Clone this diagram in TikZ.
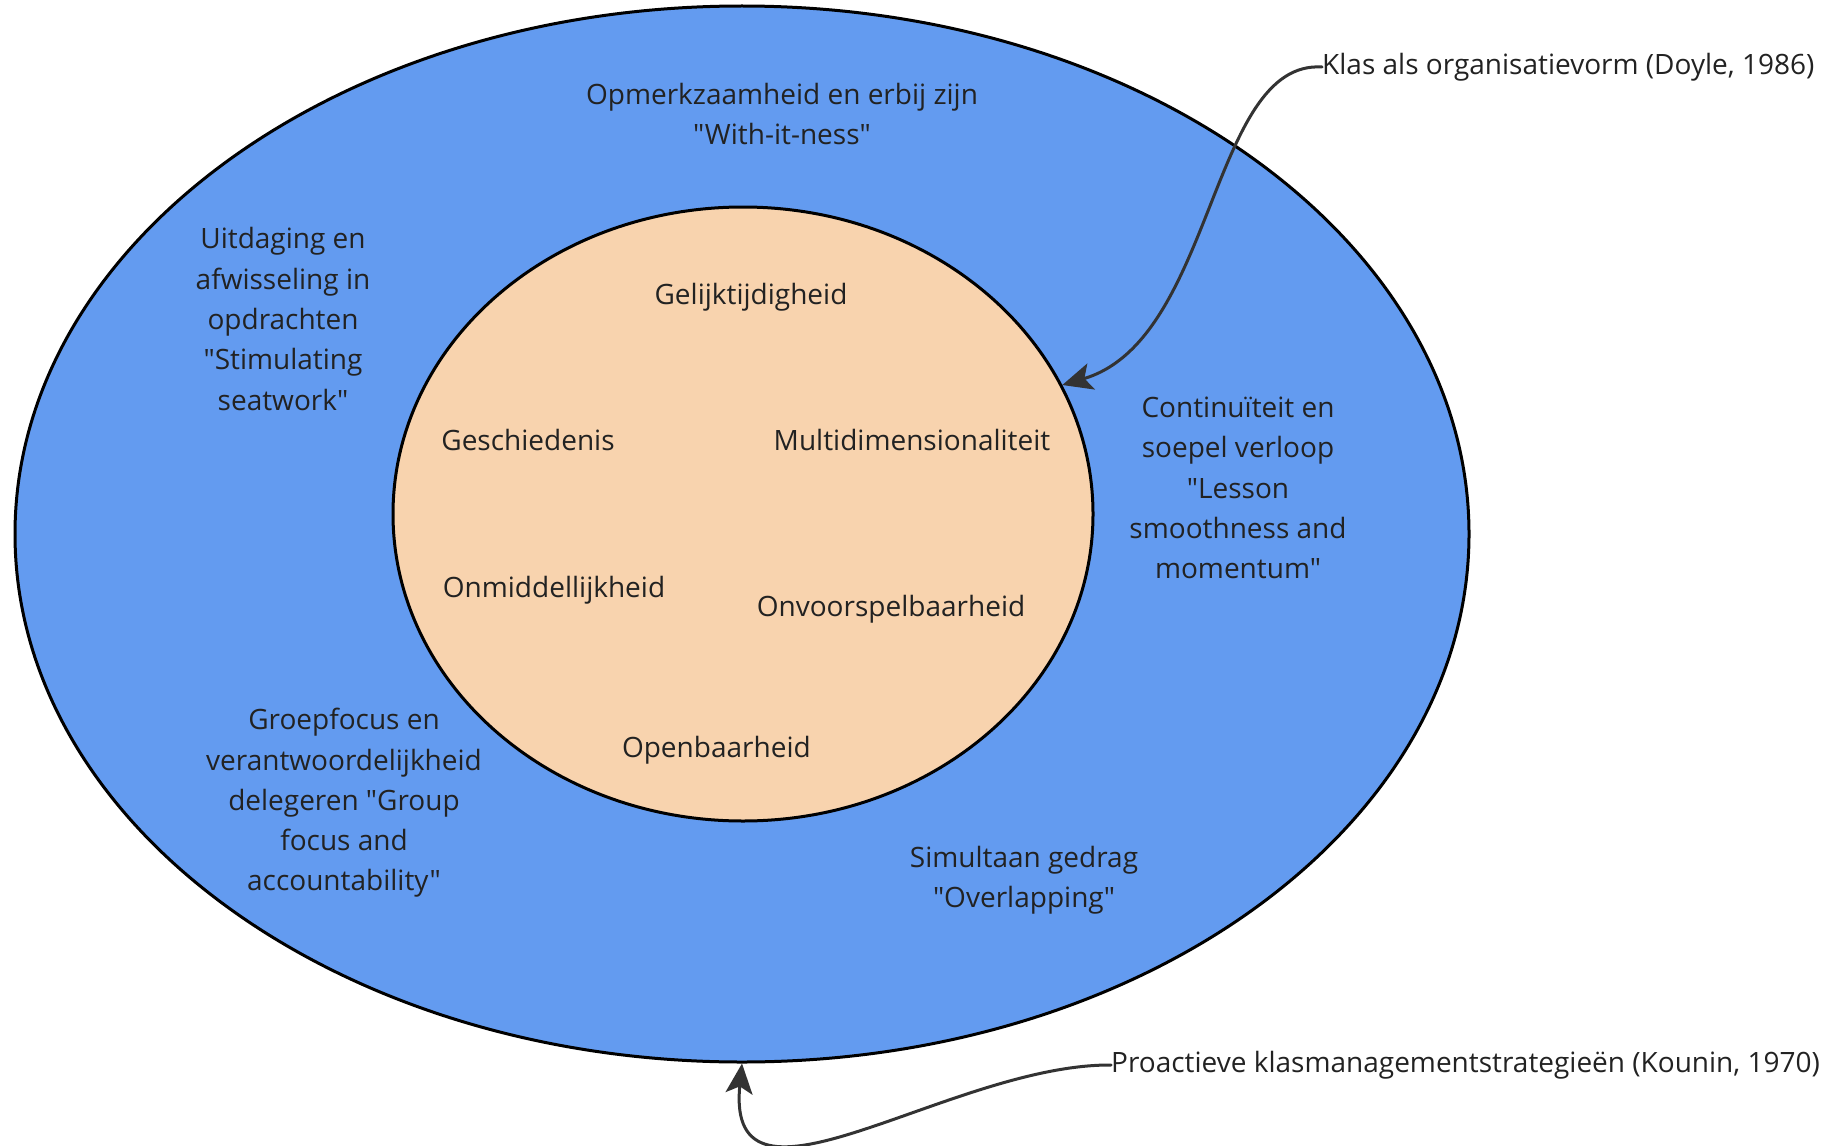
\documentclass[tikz,border=0pt]{standalone}
\usepackage{fontspec}
\setmainfont{Open Sans}[Ligatures=TeXOff]
\usetikzlibrary{arrows.meta,shapes.geometric}
\definecolor{outerblue}{HTML}{639BF0}
\definecolor{innerpeach}{HTML}{F8D3AE}
\definecolor{inkgray}{HTML}{333333}
\definecolor{textgray}{HTML}{222222}
\tikzset{
  ring/.style={draw=black,ellipse,line width=3pt,inner sep=0pt},
  lbl/.style={align=center,text=textgray,inner sep=0pt},
  conn/.style={draw=inkgray,line width=3pt,-{Stealth[length=30pt,width=27pt,inset=7pt]}}
}
\begin{document}
\begin{tikzpicture}[x=1pt,y=-1pt,line join=round,line cap=round,font=\fontsize{28}{40.3}\selectfont]
\useasboundingbox (0,0) rectangle (1843,1145);
% rings
\node[ring,fill=outerblue,minimum width=1454pt,minimum height=1056pt] (outer) at (742,534) {};
\node[ring,fill=innerpeach,minimum width=700pt,minimum height=614pt] (inner) at (743,514) {};
% inner labels
\foreach \n/\x/\y/\t in
{
  gelijk/751/297/Gelijktijdigheid,
  gesch/528/440/Geschiedenis,
  multi/912/440/Multidimensionaliteit,
  onmid/554/590/Onmiddellijkheid,
  onvoor/891/609/Onvoorspelbaarheid,
  openb/720/750/Openbaarheid
}
{
  \node[lbl] (\n) at (\x,\y) {\t};
}
% outer labels
\node[lbl] (withit) at (782,114) {Opmerkzaamheid en erbij zijn\\"With-it-ness"};
\node[lbl] (seatwork) at (283,319) {Uitdaging en\\afwisseling in\\opdrachten\\"Stimulating\\seatwork"};
\node[lbl] (smooth) at (1238,488) {Continuïteit en\\soepel verloop\\"Lesson\\smoothness and\\momentum"};
\node[lbl] (groep) at (344,803) {Groepfocus en\\verantwoordelijkheid\\delegeren "Group\\focus and\\accountability"};
\node[lbl] (overlap) at (1024,880) {Simultaan gedrag\\"Overlapping"};
% sources
\node[lbl,anchor=west] (doyle) at (1322,67) {Klas als organisatievorm (Doyle, 1986)};
\node[lbl,anchor=west] (kounin) at (1111,1065) {Proactieve klasmanagementstrategieën (Kounin, 1970)};
\draw[conn] (doyle.west) .. controls (1210,60) and (1215,340) .. (inner.22);
\draw[conn] (kounin.west) .. controls (950,1064) and (725,1235) .. (outer.south);
\end{tikzpicture}
\end{document}
